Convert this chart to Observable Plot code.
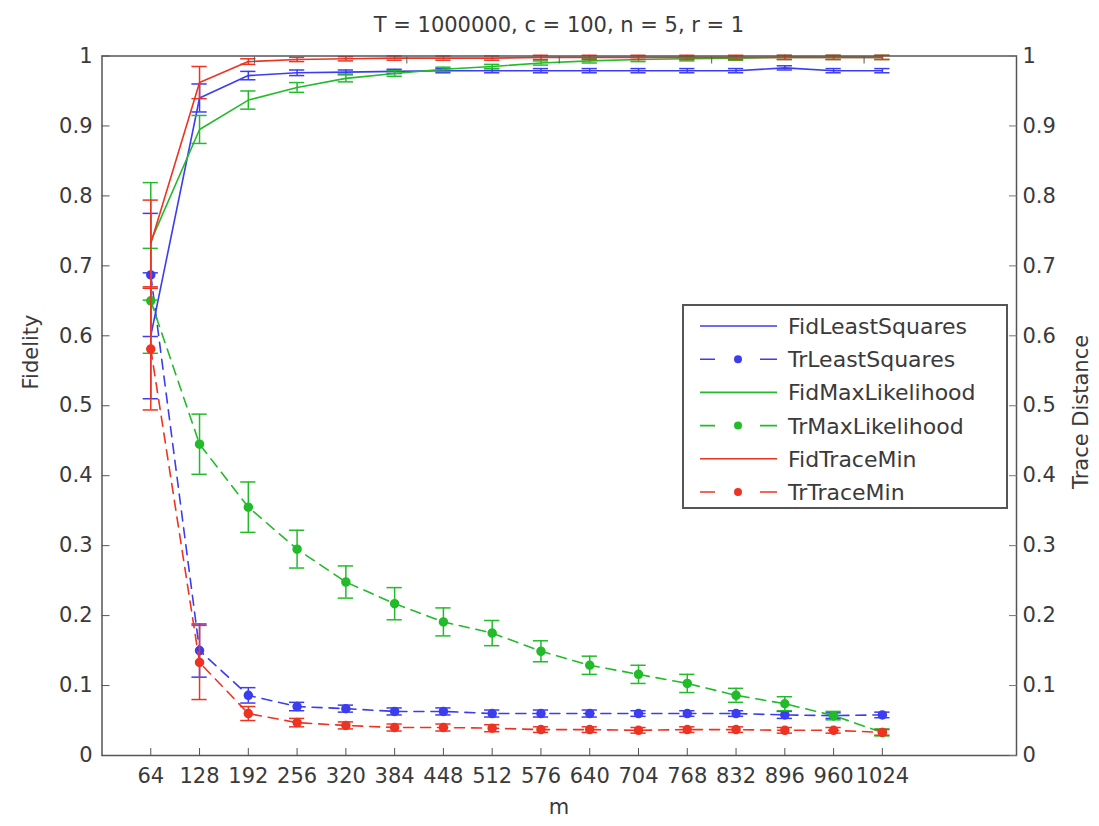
<!DOCTYPE html>
<html><head><meta charset="utf-8">
<script src="https://cdn.jsdelivr.net/npm/d3@7"></script>
<script src="https://cdn.jsdelivr.net/npm/@observablehq/plot@0.6"></script>
<style>
body{margin:0;background:#fff;}
#wrap{position:relative;width:1099px;height:826px;}
</style></head><body><div id="wrap"></div>
<script>
// ---- data ----
const mValues = [64,128,192,256,320,384,448,512,576,640,704,768,832,896,960,1024];
const yTicks = [0,0.1,0.2,0.3,0.4,0.5,0.6,0.7,0.8,0.9,1];
const yTickLabels = ["0","0.1","0.2","0.3","0.4","0.5","0.6","0.7","0.8","0.9","1"];
const topTicks = [200,400,600,800,1000];

const fidLeastSquares    = [0.600,0.940,0.972,0.976,0.977,0.978,0.979,0.979,0.979,0.979,0.979,0.979,0.979,0.983,0.979,0.979];
const fidLeastSquaresErr = [0.090,0.020,0.006,0.004,0.003,0.003,0.003,0.003,0.003,0.003,0.003,0.003,0.003,0.003,0.003,0.003];
const trLeastSquares     = [0.687,0.150,0.086,0.070,0.067,0.063,0.063,0.060,0.060,0.060,0.060,0.060,0.060,0.058,0.057,0.058];
const trLeastSquaresErr  = [0.088,0.038,0.011,0.006,0.005,0.005,0.005,0.005,0.005,0.005,0.004,0.004,0.004,0.005,0.004,0.004];
const fidMaxLikelihood    = [0.735,0.895,0.937,0.955,0.968,0.975,0.981,0.985,0.990,0.993,0.995,0.996,0.997,0.998,0.998,0.998];
const fidMaxLikelihoodErr = [0.084,0.020,0.013,0.007,0.005,0.004,0.003,0.003,0.003,0.003,0.003,0.003,0.003,0.003,0.003,0.003];
const trMaxLikelihood     = [0.650,0.445,0.355,0.295,0.248,0.217,0.191,0.175,0.149,0.129,0.116,0.103,0.086,0.074,0.057,0.033];
const trMaxLikelihoodErr  = [0.075,0.043,0.036,0.027,0.023,0.023,0.020,0.018,0.015,0.013,0.013,0.013,0.010,0.010,0.006,0.005];
const fidTraceMin    = [0.732,0.962,0.992,0.995,0.996,0.997,0.997,0.997,0.998,0.998,0.998,0.998,0.998,0.998,0.998,0.998];
const fidTraceMinErr = [0.062,0.023,0.004,0.003,0.003,0.003,0.003,0.003,0.003,0.003,0.003,0.003,0.003,0.003,0.003,0.003];
const trTraceMin     = [0.581,0.133,0.060,0.047,0.043,0.040,0.040,0.039,0.037,0.037,0.036,0.037,0.037,0.036,0.036,0.033];
const trTraceMinErr  = [0.087,0.053,0.010,0.006,0.005,0.005,0.005,0.005,0.004,0.004,0.004,0.004,0.004,0.004,0.004,0.004];

const seriesNames = ["FidLeastSquares","TrLeastSquares","FidMaxLikelihood","TrMaxLikelihood","FidTraceMin","TrTraceMin"];
const titleText = "T = 1000000, c = 100, n = 5, r = 1";

// ---- styles ----
const BLUE = "#3c3cf0", GREEN = "#22bb2a", RED = "#ee3322";
const series = [
  {name: seriesNames[0], values: fidLeastSquares,  errors: fidLeastSquaresErr,  color: BLUE,  tr: false},
  {name: seriesNames[1], values: trLeastSquares,   errors: trLeastSquaresErr,   color: BLUE,  tr: true},
  {name: seriesNames[2], values: fidMaxLikelihood, errors: fidMaxLikelihoodErr, color: GREEN, tr: false},
  {name: seriesNames[3], values: trMaxLikelihood,  errors: trMaxLikelihoodErr,  color: GREEN, tr: true},
  {name: seriesNames[4], values: fidTraceMin,      errors: fidTraceMinErr,      color: RED,   tr: false},
  {name: seriesNames[5], values: trTraceMin,       errors: trTraceMinErr,       color: RED,   tr: true}
];
const CAP = 10; // half cap width in m units
const DASH = "10,7";

const seriesMarks = series.flatMap(s => {
  const rows = mValues.map((m, i) => ({m, v: s.values[i], e: s.errors[i]}));
  const marks = [
    Plot.ruleX(rows, {x: "m", y1: d => d.v - d.e, y2: d => d.v + d.e, stroke: s.color, strokeWidth: 1.5}),
    Plot.ruleY(rows, {y: d => d.v + d.e, x1: d => d.m - CAP, x2: d => d.m + CAP, stroke: s.color, strokeWidth: 1.5}),
    Plot.ruleY(rows, {y: d => d.v - d.e, x1: d => d.m - CAP, x2: d => d.m + CAP, stroke: s.color, strokeWidth: 1.5}),
    Plot.line(rows, {x: "m", y: "v", stroke: s.color, strokeWidth: 1.6, strokeDasharray: s.tr ? DASH : null})
  ];
  if (s.tr) marks.push(Plot.dot(rows, {x: "m", y: "v", r: 4, fill: s.color, stroke: s.color}));
  return marks;
});

const fmtY = d => yTickLabels[yTicks.findIndex(t => Math.abs(t - d) < 1e-9)];
const AX = "#555", TXT = "#3a3a3a";

const chart = Plot.plot({
  width: 1099, height: 826,
  marginLeft: 101.5, marginRight: 83, marginTop: 55.5, marginBottom: 71,
  x: {domain: [0, 1200]},
  y: {domain: [0, 1]},
  style: {fontFamily: "DejaVu Sans", fontSize: "21px", color: TXT, background: "#fff"},
  marks: [
    ...seriesMarks,
    Plot.frame({stroke: AX, strokeWidth: 1.5}),
    Plot.axisX({anchor: "bottom", ticks: mValues, tickFormat: d => String(d), tickSize: -7, tickPadding: 20, label: null, stroke: AX, fill: TXT}),
    Plot.axisX({anchor: "top", ticks: topTicks, tickFormat: () => "", tickSize: -7, label: null, stroke: AX}),
    Plot.axisY({anchor: "left", ticks: yTicks, tickFormat: fmtY, tickSize: -8, tickPadding: 17.5, label: null, stroke: AX, fill: TXT}),
    Plot.axisY({anchor: "right", ticks: yTicks, tickFormat: fmtY, tickSize: -8, tickPadding: 14, label: null, stroke: "#6a7a76", fill: TXT})
  ]
});
document.getElementById("wrap").appendChild(chart);

// ---- texts and legend ----
const svg = d3.select(chart);
const g = svg.append("g").attr("font-family", "DejaVu Sans").attr("fill", TXT);
g.append("text").attr("x", 559).attr("y", 32).attr("text-anchor", "middle").attr("font-size", 21).text(titleText);
g.append("text").attr("x", 559).attr("y", 814).attr("text-anchor", "middle").attr("font-size", 21).text("m");
g.append("text").attr("transform", "translate(38,352) rotate(-90)").attr("text-anchor", "middle").attr("font-size", 21).text("Fidelity");
g.append("text").attr("transform", "translate(1088,412) rotate(-90)").attr("text-anchor", "middle").attr("font-size", 21).text("Trace Distance");

const lg = svg.append("g");
lg.append("rect").attr("x", 683).attr("y", 305).attr("width", 324).attr("height", 203)
  .attr("fill", "#fff").attr("stroke", AX).attr("stroke-width", 2);
series.forEach((s, i) => {
  const y = 326 + i * 33.2;
  lg.append("line").attr("x1", 700).attr("x2", 777).attr("y1", y).attr("y2", y)
    .attr("stroke", s.color).attr("stroke-width", 1.6).attr("stroke-dasharray", s.tr ? "15,45,17" : null);
  if (s.tr) lg.append("circle").attr("cx", 738).attr("cy", y).attr("r", 4).attr("fill", s.color);
  lg.append("text").attr("x", 788).attr("y", y + 8).attr("text-anchor", "start").attr("font-family", "DejaVu Sans")
    .attr("font-size", 22).attr("fill", TXT).text(s.name);
});
</script></body></html>
